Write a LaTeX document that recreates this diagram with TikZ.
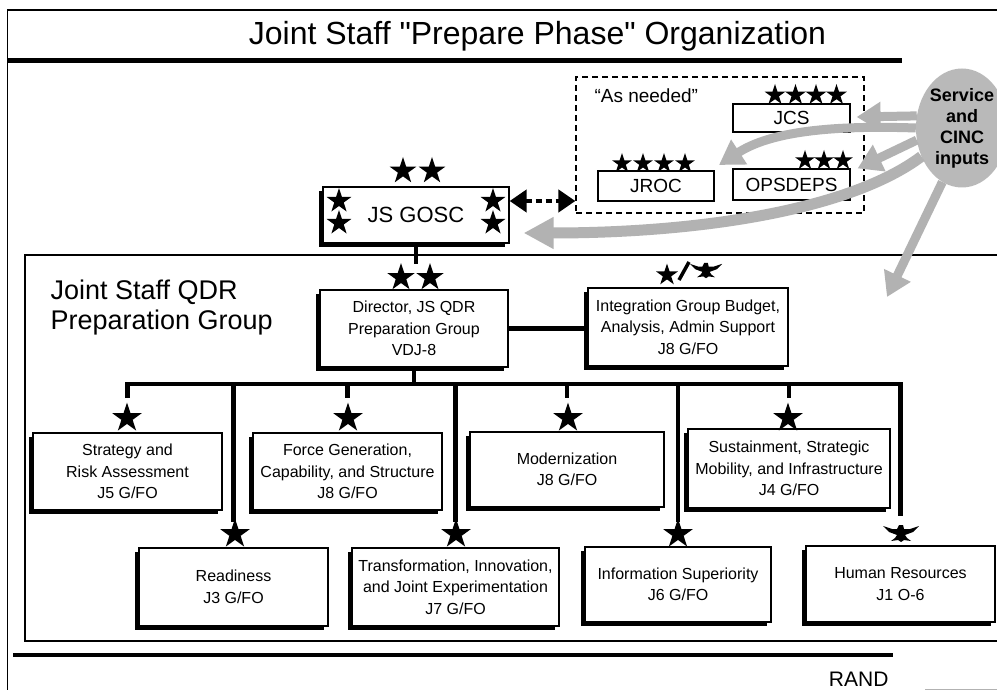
\documentclass[tikz,border=0pt]{standalone}
\usepackage{fontspec}
\setmainfont{Liberation Sans}
\newfontfamily\titlefont{Liberation Sans}[Ligatures=TeXOff]
\usetikzlibrary{arrows.meta,shapes.geometric,shadows,calc}

\newcommand\drawstar[3]{\fill[shift={(#1,#2)}] (-90:#3) -- (-54:0.382*#3) -- (-18:#3) -- (18:0.382*#3) -- (54:#3) -- (90:0.382*#3) -- (126:#3) -- (162:0.382*#3) -- (198:#3) -- (234:0.382*#3) -- cycle;}
\newcommand\draweagle[3]{\fill[shift={(#1,#2)},scale=#3] (-18,-8) -- (-9,-5) -- (-4,-5) -- (-2,-9) -- (2,-9) -- (3,-5) -- (9,-5) -- (18,-8) -- (12,-2) -- (4,1) -- (6,4) -- (10,7) -- (3,6) -- (0,8) -- (-3,6) -- (-10,7) -- (-6,4) -- (-4,1) -- (-12,-2) -- cycle;}

\begin{document}
\begin{tikzpicture}[x=1pt,y=-1pt,
  conn/.style={line width=4.5pt},
  box/.style={draw, line width=1.3pt, fill=white, align=center, inner sep=0pt,
    font=\fontsize{16}{21.5}\selectfont,
    drop shadow={shadow xshift=-4pt, shadow yshift=-4pt, fill=black, opacity=1}},
  sbox/.style={draw, line width=1.2pt, fill=white, inner sep=0pt, font=\fontsize{19}{22}\selectfont},
  grayarrow/.style={draw=gray!60, line width=9pt, -{Triangle[length=24pt,width=28pt]}},
]
\fill[white] (0,0) rectangle (997,690);
\useasboundingbox (0,0) rectangle (997,690);
\clip (0,0) rectangle (997,690);

% frame
\draw[line width=1.5pt] (7.5,690) -- (7.5,10) -- (1000,10);
\draw[line width=5pt] (7,61) -- (902,61);
\draw[line width=4pt] (13,655) -- (893,655);
\draw[line width=1.5pt] (25,255) rectangle (1005,641);
\draw[gray!60, line width=1pt] (925,689) -- (997,689);

\node[anchor=base, font=\titlefont\fontsize{32}{36}\selectfont] (title) at (537.5,45) {Joint Staff "Prepare Phase" Organization};
\node[anchor=base east, font=\fontsize{21}{24}\selectfont] (rand) at (892,686) {RAND};

% "As needed" group
\node[draw, line width=1.2pt, dash pattern=on 6pt off 4pt, minimum width=288pt, minimum height=136pt, inner sep=0pt] (dbox) at (720,145) {};
\node[anchor=base west, font=\fontsize{19}{22}\selectfont] (asneeded) at (591,103) {“As needed”};
\node[sbox, minimum width=117pt, minimum height=28pt] (jcs) at (791.5,118) {JCS};
\node[sbox, minimum width=116pt, minimum height=30pt] (jroc) at (656,186) {JROC};
\node[sbox, minimum width=117pt, minimum height=31pt] (ops) at (791.5,184.5) {OPSDEPS};
\foreach \x in {775,795.5,816,836.5} {\drawstar{\x}{95}{11}}
\foreach \x in {622,643,664,685} {\drawstar{\x}{163.5}{10.5}}
\foreach \x in {805,824,843} {\drawstar{\x}{160.5}{10.5}}

% JS GOSC
\node[box, minimum width=186pt, minimum height=56pt, font=\fontsize{22}{24}\selectfont] (gosc) at (416,215) {JS GOSC};
\drawstar{403}{171}{14}\drawstar{432}{171}{14}
\drawstar{339}{201}{13}\drawstar{339}{223}{13}
\drawstar{493}{201}{13}\drawstar{493}{223}{13}
\draw[line width=4.5pt, dash pattern=on 6pt off 4pt, {Triangle[length=17pt,width=22pt]}-{Triangle[length=17pt,width=22pt]}] (gosc.east |- 0,201) -- (dbox.west |- 0,201);
\draw[conn] (gosc.south) -- ++(0,20);

% Service and CINC inputs
\node[ellipse, fill=gray!55, minimum width=92pt, minimum height=119pt, inner sep=0pt, align=center,
  font=\bfseries\fontsize{18}{21}\selectfont] (svc) at (962,128) {Service\\and\\CINC\\inputs};
\coordinate (a2end) at (719,165);
\coordinate (a5end) at (887,297);
\draw[grayarrow] (svc.165) -- ($(jcs.east)+(6,-1)$);
\draw[grayarrow] (svc.180) .. controls (830,125) and (770,132) .. (a2end);
\draw[grayarrow] (svc.195) -- ($(ops.north east)+(7,0)$);
\draw[grayarrow, line width=11pt, -{Triangle[length=30pt,width=30pt]}] (svc.215) .. controls (850,210) and (700,233) .. ($(gosc.east)+(14,18)$);
\draw[grayarrow] (svc.250) -- (a5end);

% QDR group
\node[anchor=west, align=left, font=\fontsize{27}{30}\selectfont] (qdr) at (47,308) {Joint Staff QDR\\Preparation Group};
\node[box, minimum width=188pt, minimum height=77pt] (dir) at (414,328.5) {Director, JS QDR\\Preparation Group\\VDJ-8};
\node[box, minimum width=200pt, minimum height=78pt] (integ) at (688,327) {Integration Group Budget,\\Analysis, Admin Support\\J8 G/FO};
\drawstar{401}{277.5}{14.5}\drawstar{430}{277.5}{14.5}
\drawstar{667}{275}{11.5}
\draw[line width=3.5pt] (679,280) -- (689,262);
\draweagle{706}{271}{0.9}
\draw[conn] (dir.east) -- (dir.east -| integ.west);

% subordinate boxes
\node[box, minimum width=189pt, minimum height=77pt] (strat) at (127.5,471.5) {Strategy and\\Risk Assessment\\J5 G/FO};
\node[box, minimum width=189pt, minimum height=77pt] (force) at (347.5,471.5) {Force Generation,\\Capability, and Structure\\J8 G/FO};
\node[box, minimum width=194pt, minimum height=75pt] (modern) at (567,469.5) {Modernization\\J8 G/FO};
\node[box, minimum width=202pt, minimum height=79pt] (sust) at (789,468.5) {Sustainment, Strategic\\Mobility, and Infrastructure\\J4 G/FO};
\node[box, minimum width=189pt, minimum height=78pt] (ready) at (233.5,587) {Readiness\\J3 G/FO};
\node[box, minimum width=207pt, minimum height=78pt] (transf) at (455.5,587) {Transformation, Innovation,\\and Joint Experimentation\\J7 G/FO};
\node[box, minimum width=186pt, minimum height=75pt] (info) at (678,584.5) {Information Superiority\\J6 G/FO};
\node[box, minimum width=189pt, minimum height=76pt] (hr) at (900.5,584) {Human Resources\\J1 O-6};

\coordinate (busL) at (125,384);
\draw[conn] (dir.south) -- (dir.south |- busL);
\draw[conn] (strat.north |- 0,398) -- (strat.north |- busL) -- (hr.north |- busL) -- (hr.north |- 0,516);
\foreach \n in {force,modern,sust} {\draw[conn] (\n.north |- busL) -- ++(0,14);}
\foreach \n in {ready,transf,info} {\draw[conn] (\n.north |- busL) -- (\n.north |- 0,522);}

\foreach \x in {127,348,568,788} {\drawstar{\x}{418}{15.5}}
\foreach \x in {235,456,678} {\drawstar{\x}{534}{15.5}}
\draweagle{901}{534}{1}
\end{tikzpicture}
\end{document}
